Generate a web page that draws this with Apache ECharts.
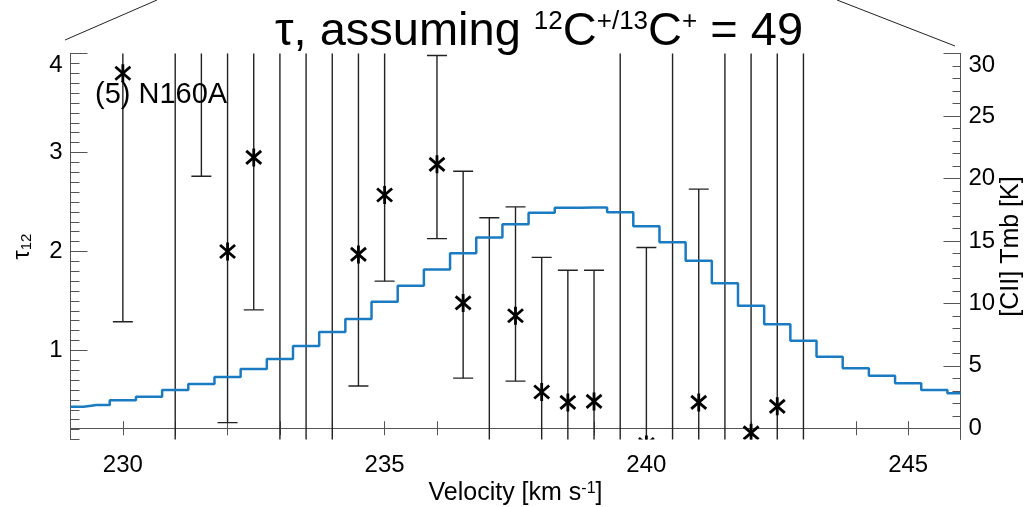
<!DOCTYPE html>
<html>
<head>
<meta charset="utf-8">
<script src="https://cdn.jsdelivr.net/npm/echarts@6/dist/echarts.min.js"></script>
<style>
html,body{margin:0;padding:0;background:#fff;}
#chart{width:1024px;height:507px;}
</style>
</head>
<body>
<div id="chart"></div>
<script>
// ---- data ----
// [CII] Tmb spectrum (right axis), channel centres in km/s
const channelVelocity = [229.0, 229.5, 230.0, 230.5, 231.0, 231.5, 232.0, 232.5, 233.0, 233.5,
  234.0, 234.5, 235.0, 235.5, 236.0, 236.5, 237.0, 237.5, 238.0, 238.5,
  239.0, 239.5, 240.0, 240.5, 241.0, 241.5, 242.0, 242.5, 243.0, 243.5,
  244.0, 244.5, 245.0, 245.5, 246.0];
const tmb = [1.73, 1.87, 2.24, 2.53, 3.06, 3.54, 4.10, 4.74, 5.54, 6.58,
  7.70, 8.74, 10.13, 11.40, 12.70, 14.00, 15.28, 16.34, 17.25, 17.65,
  17.68, 17.30, 16.18, 14.90, 13.40, 11.60, 9.80, 8.32, 7.00, 5.73,
  4.80, 4.20, 3.60, 3.06, 2.80];

// tau_12 points with error bars (left axis); null = off-scale / not shown
const tauVelocity = [230.0, 231.0, 231.5, 232.0, 232.5, 233.0, 233.5, 234.0, 234.5, 235.0,
  236.0, 236.5, 237.0, 237.5, 238.0, 238.5, 239.0, 239.5, 240.0, 240.5,
  241.0, 241.5, 242.0, 242.5, 243.0];
const tau = [3.80, null, null, 2.00, 2.95, null, null, null, 1.97, 2.57,
  2.88, 1.48, null, 1.35, 0.58, 0.475, 0.485, null, 0.05, null,
  0.475, null, 0.167, 0.435, null];
const tauLow = [1.29, null, 2.76, 0.27, 1.41, null, null, null, 0.64, 1.70,
  2.13, 0.72, null, 0.69, null, null, null, null, null, null,
  null, null, null, null, null];
const tauHigh = [null, null, null, null, null, null, null, null, null, null,
  3.98, 2.81, 2.34, 2.45, 1.94, 1.81, 1.81, null, 2.04, null,
  2.63, null, null, null, null];

// axes
const xMin = 229, xMax = 246;
const xLabelValues = [230, 235, 240, 245];
const tauMin = 0.1, tauMax = 4.0;
const tauMajorTicks = [1, 2, 3, 4];
const tmbMin = -0.9, tmbMax = 30;
const tmbMajorTicks = [0, 5, 10, 15, 20, 25, 30];
const tmbMinorTicks = [0,1,2,3,4,5,6,7,8,9,10,11,12,13,14,15,16,17,18,19,20,21,22,23,24,25,26,27,28,29,30];

const FONT = 'Liberation Sans';
const AXIS_COLOR = '#555';

const chart = echarts.init(document.getElementById('chart'), null, {renderer: 'canvas'});

function errRender(params, api) {
  const i = params.dataIndex;
  const v = tauVelocity[i];
  const hiVal = tauHigh[i] == null ? tauMax + 2 : tauHigh[i];
  const loVal = tauLow[i] == null ? tauMin - 2 : tauLow[i];
  const pHi = api.coord([v, hiVal]);
  const pLo = api.coord([v, loVal]);
  const stroke = {stroke: '#222', lineWidth: 1.4};
  const children = [{
    type: 'line', shape: {x1: pHi[0], y1: pHi[1], x2: pLo[0], y2: pLo[1]}, style: stroke
  }];
  const cap = 10;
  if (tauHigh[i] != null) children.push({type: 'line', shape: {x1: pHi[0] - cap, y1: pHi[1], x2: pHi[0] + cap, y2: pHi[1]}, style: stroke});
  if (tauLow[i] != null) children.push({type: 'line', shape: {x1: pLo[0] - cap, y1: pLo[1], x2: pLo[0] + cap, y2: pLo[1]}, style: stroke});
  if (tau[i] != null) {
    const p = api.coord([v, tau[i]]);
    const s = {stroke: '#000', lineWidth: 2.8};
    children.push({type: 'line', shape: {x1: p[0], y1: p[1] - 9, x2: p[0], y2: p[1] + 9}, style: s});
    children.push({type: 'line', shape: {x1: p[0] - 7.5, y1: p[1] - 6.5, x2: p[0] + 7.5, y2: p[1] + 6.5}, style: s});
    children.push({type: 'line', shape: {x1: p[0] - 7.5, y1: p[1] + 6.5, x2: p[0] + 7.5, y2: p[1] - 6.5}, style: s});
  }
  return {type: 'group', children: children};
}

const option = {
  backgroundColor: '#fff',
  animation: false,
  title: {
    text: '{m|τ, assuming }{s|12}{m|C}{s|+/13}{m|C}{s|+}{m| = 49}',
    left: 534, top: 4, textAlign: 'center',
    textStyle: {
      fontWeight: 'normal',
      rich: {
        m: {fontSize: 47, fontFamily: FONT, fontWeight: 'normal', color: '#000'},
        s: {fontSize: 26, fontFamily: FONT, fontWeight: 'normal', color: '#000', verticalAlign: 'top'}
      }
    }
  },
  grid: {left: 70.5, right: 63.5, top: 53.5, bottom: 67.5, containLabel: false, outerBoundsMode: 'none'},
  xAxis: [{
    type: 'value', position: 'bottom', min: xMin, max: xMax, interval: 1,
    axisLine: {show: true, lineStyle: {color: AXIS_COLOR, width: 1}},
    axisTick: {show: true, inside: true, length: 7, lineStyle: {color: AXIS_COLOR}},
    axisLabel: {show: true, customValues: xLabelValues, fontSize: 24, fontFamily: FONT, color: '#000', margin: 14},
    splitLine: {show: false},
    name: '{a|Velocity [km s}{s|-1}{a|]}', nameLocation: 'middle', nameGap: 41, nameMoveOverlap: false,
    nameTextStyle: {
      rich: {
        a: {fontSize: 25, fontFamily: FONT, color: '#000'},
        s: {fontSize: 16, fontFamily: FONT, color: '#000', verticalAlign: 'top'}
      }
    }
  }, {
    type: 'value', position: 'top', min: xMin, max: xMax, interval: 1,
    axisLine: {show: true, lineStyle: {color: AXIS_COLOR, width: 1}},
    axisTick: {show: true, inside: true, length: 7, lineStyle: {color: AXIS_COLOR}},
    axisLabel: {show: false}, splitLine: {show: false}
  }],
  yAxis: [{
    type: 'value', position: 'left', min: tauMin, max: tauMax, interval: 0.1,
    axisLine: {show: true, lineStyle: {color: AXIS_COLOR, width: 1}},
    axisTick: {show: true, inside: true, length: 9, lineStyle: {color: AXIS_COLOR}},
    axisLabel: {show: false}, splitLine: {show: false}
  }, {
    type: 'value', position: 'left', min: tauMin, max: tauMax,
    axisLine: {show: false},
    axisTick: {show: true, inside: true, length: 17, customValues: tauMajorTicks, lineStyle: {color: AXIS_COLOR}},
    axisLabel: {show: true, customValues: tauMajorTicks, fontSize: 24, fontFamily: FONT, color: '#000', margin: 8, verticalAlignMaxLabel: 'top'},
    splitLine: {show: false},
    name: '{t|τ}{s|12}', nameLocation: 'middle', nameGap: 36, nameRotate: 90, nameMoveOverlap: false,
    nameTextStyle: {
      rich: {
        t: {fontSize: 23, fontFamily: FONT, color: '#000'},
        s: {fontSize: 15, fontFamily: FONT, color: '#000', verticalAlign: 'bottom'}
      }
    }
  }, {
    type: 'value', position: 'right', min: tmbMin, max: tmbMax,
    axisLine: {show: true, lineStyle: {color: AXIS_COLOR, width: 1}},
    axisTick: {show: true, inside: true, length: 8, customValues: tmbMinorTicks, lineStyle: {color: AXIS_COLOR}},
    axisLabel: {show: false}, splitLine: {show: false}
  }, {
    type: 'value', position: 'right', min: tmbMin, max: tmbMax,
    axisLine: {show: false},
    axisTick: {show: true, inside: true, length: 17, customValues: tmbMajorTicks, lineStyle: {color: AXIS_COLOR}},
    axisLabel: {show: true, customValues: tmbMajorTicks, fontSize: 24, fontFamily: FONT, color: '#000', margin: 8, verticalAlignMaxLabel: 'top'},
    splitLine: {show: false},
    name: '[CII] Tmb [K]', nameLocation: 'middle', nameGap: 38, nameRotate: 90, nameMoveOverlap: false,
    nameTextStyle: {fontSize: 25, fontFamily: FONT, color: '#000'}
  }],
  graphic: [
    {type: 'text', x: 95, y: 95, style: {text: '(5) N160A', fontSize: 29, fontFamily: FONT, fill: '#000', verticalAlign: 'middle', align: 'left'}, z: 20},
    {type: 'line', shape: {x1: 65, y1: 40, x2: 157, y2: 0}, style: {stroke: '#222', lineWidth: 1}},
    {type: 'line', shape: {x1: 837, y1: 0, x2: 955, y2: 46}, style: {stroke: '#222', lineWidth: 1}}
  ],
  series: [{
    type: 'custom', xAxisIndex: 0, yAxisIndex: 0, clip: true, z: 3,
    data: tauVelocity.map((v, i) => [v, i]),
    renderItem: errRender
  }, {
    type: 'line', xAxisIndex: 0, yAxisIndex: 2, step: 'middle', symbol: 'none', clip: true, z: 5,
    data: channelVelocity.map((v, i) => [v, tmb[i]]),
    lineStyle: {color: '#1b7bc2', width: 2.5}
  }]
};
chart.setOption(option);
</script>
</body>
</html>
